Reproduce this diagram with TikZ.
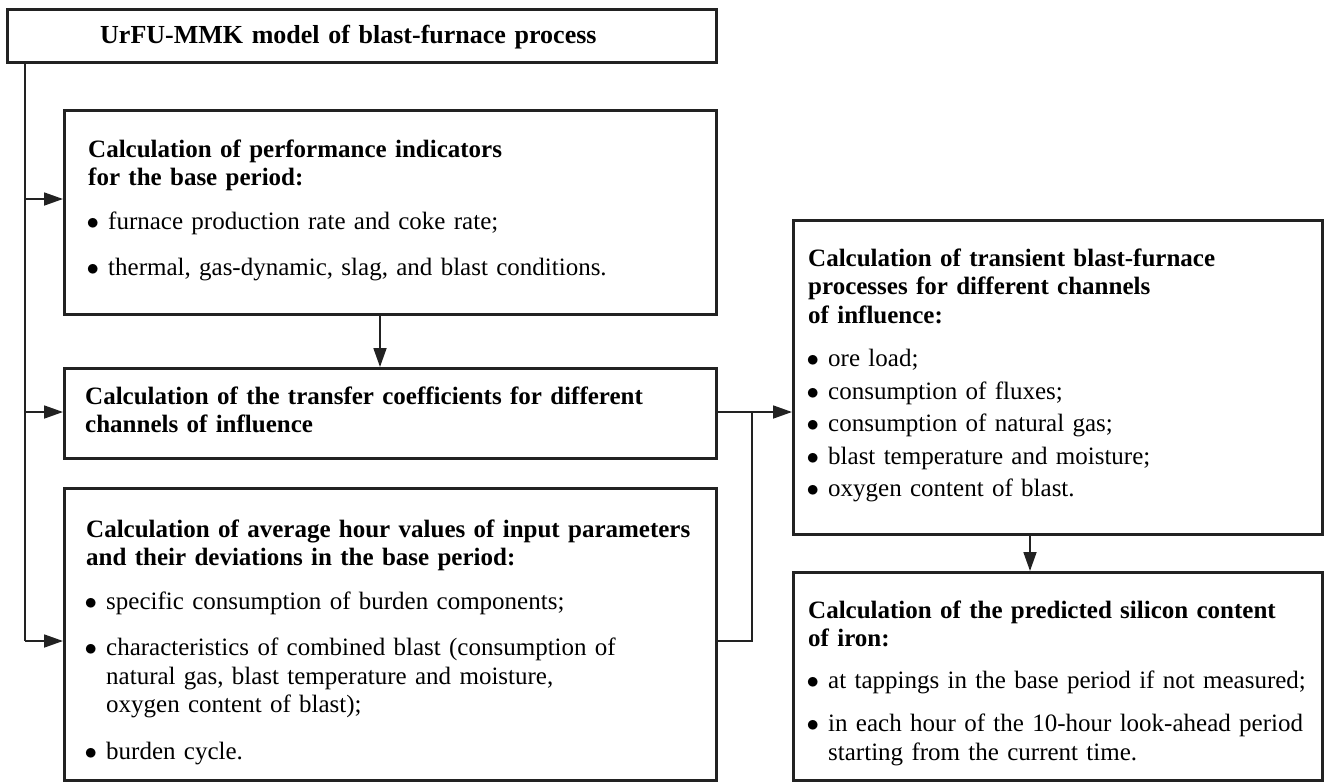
\documentclass[tikz,border=0pt]{standalone}
\usepackage{fontspec}
\setmainfont{Liberation Serif}
\usetikzlibrary{arrows.meta}
\definecolor{ln}{HTML}{222222}
\newcommand{\fl}{\rule{0pt}{20pt}}
\newcommand{\bitem}[1]{\par\vspace{#1}\hangindent=20pt\hangafter=1\noindent\makebox[20pt][l]{\hspace{-1.5pt}$\bullet$}}
\begin{document}
\begin{tikzpicture}[x=1pt,y=-1pt,
  box/.style={draw=ln,line width=2.8pt,fill=white,inner sep=0pt,anchor=north west},
  txt/.style={anchor=north west,inner sep=0pt,text width=#1,align=left,
    font=\fontsize{25}{28.5}\selectfont},
  txt/.default=700pt,
  conn/.style={draw=ln,line width=1.8pt},
  arr/.style={conn,-{Triangle[length=19pt,width=13pt]}}]
\useasboundingbox (0,0) rectangle (1326,782);
% boxes
\node[box,minimum width=709pt,minimum height=53pt] (top) at (6,8) {};
\node[box,minimum width=652pt,minimum height=204pt] (b1) at (63,109) {};
\node[box,minimum width=652pt,minimum height=90pt] (b2) at (63,367) {};
\node[box,minimum width=652pt,minimum height=292pt] (b3) at (63,487) {};
\node[box,minimum width=529pt,minimum height=314pt] (r1) at (792,219) {};
\node[box,minimum width=529pt,minimum height=208pt] (r2) at (792,571) {};
% texts
\node[txt,font=\fontsize{26}{28.5}\selectfont] (ttop) at (100,23) {\fl\textbf{UrFU-MMK model of blast-furnace process}\par};
\node[txt] (t1) at (88,137) {\fl\textbf{Calculation of performance indicators\newline for the base period:}
\bitem{15pt}furnace production rate and coke rate;
\bitem{18pt}thermal, gas-dynamic, slag, and blast conditions.\par};
\node[txt] (t2) at (85,384) {\fl\textbf{Calculation of the transfer coefficients for different\newline channels of influence}\par};
\node[txt] (t3) at (86,517) {\fl\textbf{Calculation of average hour values of input parameters\newline and their deviations in the base period:}
\bitem{15pt}specific consumption of burden components;
\bitem{18pt}characteristics of combined blast (consumption of\newline natural gas, blast temperature and moisture,\newline oxygen content of blast);
\bitem{18pt}burden cycle.\par};
\node[txt] (tr1) at (808,246) {\fl\textbf{Calculation of transient blast-furnace\newline processes for different channels\newline of influence:}
\bitem{15pt}ore load;
\bitem{4pt}consumption of fluxes;
\bitem{4pt}consumption of natural gas;
\bitem{4pt}blast temperature and moisture;
\bitem{4pt}oxygen content of blast.\par};
\node[txt] (tr2) at (808,598) {\fl\textbf{Calculation of the predicted silicon content\newline of iron:}
\bitem{13pt}at tappings in the base period if not measured;
\bitem{15pt}in each hour of the 10-hour look-ahead period\newline starting from the current time.\par};
% connector points
\coordinate (t0) at (25,61);
\coordinate (j1) at (25,199);
\coordinate (j2) at (25,412);
\coordinate (j3) at (25,641);
\coordinate (xa) at (380,0);
\coordinate (k1) at (752,641);
\coordinate (k2) at (752,412);
\coordinate (xr) at (1030,0);
% connectors
\draw[conn] (t0) -- (j3);
\draw[arr] (j1) -- (j1 -| b1.west);
\draw[arr] (j2) -- (j2 -| b2.west);
\draw[arr] (j3) -- (j3 -| b3.west);
\draw[arr] (b1.south -| xa) -- (b2.north -| xa);
\draw[arr] (b2.east |- j2) -- (r1.west |- j2);
\draw[conn] (b3.east |- k1) -- (k1) -- (k2);
\draw[arr] (r1.south -| xr) -- (r2.north -| xr);
\end{tikzpicture}
\end{document}
